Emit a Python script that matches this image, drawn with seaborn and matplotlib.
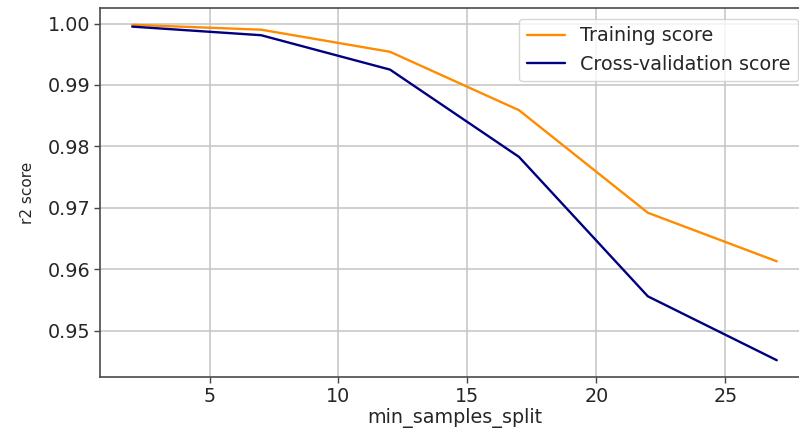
import matplotlib
matplotlib.use("Agg")
import matplotlib.pyplot as plt
import seaborn as sns
import pandas as pd

param_range = [2, 7, 12, 17, 22, 27]
train_scores = [0.9998, 0.9990, 0.9954, 0.9859, 0.9692, 0.9613]
cv_scores = [0.9995, 0.9981, 0.9925, 0.9783, 0.9556, 0.9452]
labels = ["Training score", "Cross-validation score"]
colors = ["darkorange", "navy"]

sns.set_style("ticks")
plt.rcParams["font.family"] = ["DejaVu Sans"]
plt.rcParams["font.size"] = 13.8
plt.rcParams["axes.linewidth"] = 1.2
plt.rcParams["xtick.major.width"] = 1.0
plt.rcParams["ytick.major.width"] = 1.0
plt.rcParams["xtick.major.size"] = 4.0
plt.rcParams["ytick.major.size"] = 4.0
plt.rcParams["xtick.major.pad"] = 3.0
plt.rcParams["ytick.major.pad"] = 3.0

df = pd.DataFrame({
    "x": param_range * 2,
    "score": train_scores + cv_scores,
    "series": [labels[0]] * len(param_range) + [labels[1]] * len(param_range),
})

fig = plt.figure(figsize=(7.99, 4.30), dpi=100)
ax = fig.add_axes([100 / 799, 53 / 430, 709 / 799, 369 / 430])

for lab, col in zip(labels, colors):
    sub = df[df["series"] == lab]
    sns.lineplot(data=sub, x="x", y="score", ax=ax, color=col, lw=1.7,
                 label=lab)

ax.grid(True, color="#c4c4c4", linewidth=1.1)
ax.set_axisbelow(True)
ax.set_xlabel("min_samples_split", fontsize=13.8, labelpad=2)
ax.set_ylabel("r2 score", fontsize=11, labelpad=9)
ax.set_xticks([5, 10, 15, 20, 25])
ax.set_yticks([0.95, 0.96, 0.97, 0.98, 0.99, 1.00])
ax.set_yticklabels(["0.95", "0.96", "0.97", "0.98", "0.99", "1.00"])
ax.tick_params(labelsize=13.8, colors="#444444", labelcolor="#262626")
for s in ax.spines.values():
    s.set_color("#4a4a4a")
ax.legend(loc="upper right", fontsize=13.8, framealpha=0.8,
          borderaxespad=0.55, handlelength=2.0)

fig.savefig("out.png", dpi=100)
